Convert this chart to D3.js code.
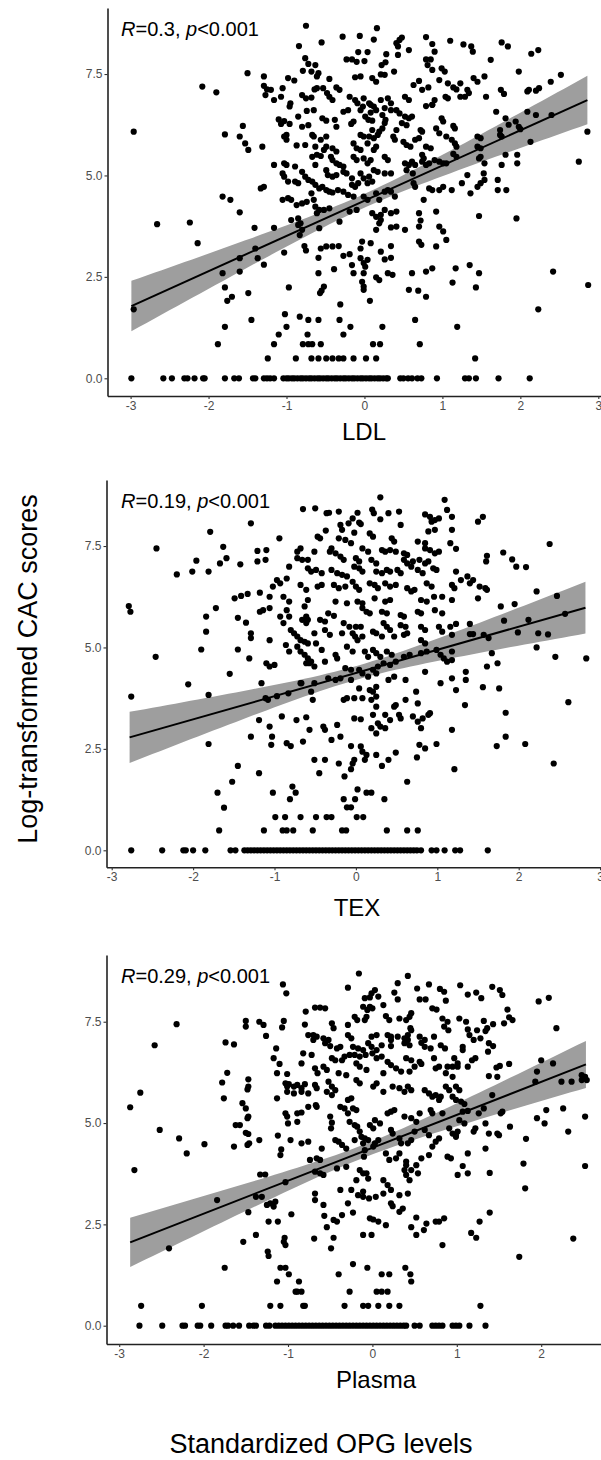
<!DOCTYPE html>
<html>
<head>
<meta charset="utf-8">
<script src="https://cdn.jsdelivr.net/npm/d3@7"></script>
<style>
  body { margin: 0; background: #fff; }
  svg text { font-family: "Liberation Sans", Arial, sans-serif; }
</style>
</head>
<body>
<div id="chart"></div>
<script>
// scatter points [x, y], one list per panel
var ldlPoints = [
  [-0.75,8.69],[0.16,8.63],[-0.06,8.44],[-0.28,8.42],[0.12,8.35],[0.79,8.41],[1.10,8.32],[1.27,8.23],[1.37,8.18],[1.39,8.05],
  [1.76,8.28],[1.84,8.18],[-0.55,8.28],[-0.84,8.19],[0.48,8.40],[0.45,8.34],[0.41,8.26],[0.43,8.18],[0.87,8.24],[0.9,8.05],
  [0.57,8.09],[2.23,8.09],[2.14,8.0],[0.28,7.99],[-0.08,8.04],[0.04,8.04],[1.62,7.85],[0.43,7.97],[-0.76,7.89],[-0.72,7.75],
  [-0.63,7.72],[-0.23,7.86],[-0.16,7.86],[-0.10,7.8],[0.0,7.82],[0.79,7.86],[0.85,7.86],[0.81,7.72],[0.87,7.6],[0.99,7.64],
  [1.03,7.56],[0.27,7.79],[0.22,7.72],[0.38,7.56],[0.26,7.48],[0.21,7.49],[-0.79,7.58],[-0.68,7.56],[-0.59,7.52],[-0.61,7.44],
  [2.52,7.48],[2.39,7.31],[1.98,7.56],[-1.50,7.52],[-1.29,7.44],[-0.98,7.40],[-0.90,7.34],[-0.45,7.38],[-0.53,7.15],[-0.36,7.17],
  [-0.32,7.11],[-0.12,7.42],[-0.05,7.44],[0.10,7.40],[0.15,7.31],[1.23,7.27],[1.40,7.40],[1.45,7.31],[1.54,7.44],[0.96,7.35],
  [1.07,7.27],[0.70,7.33],[0.63,7.23],[1.14,7.17],[1.18,7.12],[1.32,7.11],[1.34,7.03],[1.29,6.94],[0.74,7.11],[0.82,7.17],
  [1.75,7.11],[1.79,7.01],[2.11,7.11],[2.09,7.07],[2.24,7.15],[2.2,7.09],[-2.08,7.19],[-1.90,7.05],[-1.29,7.21],[-1.25,7.12],
  [-1.20,7.11],[-1.05,7.15],[-1.07,6.94],[-1.27,6.98],[-1.16,6.86],[-0.80,6.98],[-0.75,6.90],[-0.68,6.92],[-0.64,7.12],[-0.61,7.15],
  [-0.48,7.03],[-0.45,6.94],[-0.41,6.86],[-0.19,6.94],[-0.12,6.86],[-0.09,6.78],[-0.01,6.90],[0.06,6.78],[0.08,6.74],[-0.02,6.70],
  [0.21,6.86],[0.30,6.90],[0.34,6.78],[0.52,6.94],[0.57,6.86],[0.90,6.86],[0.87,6.74],[1.04,6.94],[1.07,6.90],[1.23,6.94],
  [1.56,6.94],[-0.95,6.78],[-0.96,6.70],[-0.65,6.61],[-0.74,6.59],[-0.27,6.57],[-0.21,6.61],[-0.05,6.61],[0.08,6.55],[0.01,6.45],
  [0.05,6.37],[0.12,6.70],[0.15,6.61],[0.26,6.66],[0.23,6.49],[0.34,6.61],[0.41,6.61],[0.45,6.53],[0.52,6.45],[0.57,6.41],
  [0.61,6.45],[0.79,6.71],[0.87,6.74],[1.69,6.57],[2.09,6.57],[2.2,6.49],[2.4,6.49],[-1.10,6.38],[-1.03,6.34],[-0.85,6.45],
  [-0.54,6.41],[-0.49,6.35],[-0.38,6.37],[-0.36,6.20],[-0.14,6.33],[-0.17,6.27],[0.10,6.35],[0.27,6.37],[0.26,6.29],[0.48,6.29],
  [0.54,6.24],[0.99,6.41],[1.01,6.33],[1.14,6.22],[1.16,6.16],[1.81,6.41],[1.94,6.33],[1.74,6.12],[1.85,6.25],[1.98,6.20],
  [2.0,6.14],[-1.07,6.27],[-0.96,6.27],[-0.80,6.20],[-0.72,6.24],[-1.56,6.22],[0.10,6.12],[0.19,6.08],[0.23,6.16],[0.41,6.12],
  [0.72,6.12],[0.74,6.08],[0.92,6.16],[0.96,6.04],[2.86,6.08],[-2.96,6.08],[-1.79,6.01],[-1.60,5.96],[-1.0,6.0],[-1.03,5.96],
  [-1.0,5.88],[-0.67,6.0],[-0.65,5.96],[-0.49,5.96],[-0.56,5.88],[-0.05,6.0],[-0.01,5.96],[0.06,5.96],[0.17,6.0],[0.12,5.92],
  [0.37,5.96],[0.39,5.88],[0.70,5.92],[0.65,5.88],[1.05,5.96],[1.12,5.88],[1.45,5.96],[1.49,5.92],[1.74,6.0],[1.76,5.96],
  [2.13,5.83],[-1.53,5.79],[-1.49,5.63],[-1.31,5.71],[-0.87,5.74],[-0.76,5.75],[-0.63,5.71],[-0.49,5.71],[-0.52,5.63],[-0.41,5.67],
  [-0.36,5.59],[-0.14,5.79],[-0.10,5.67],[-0.05,5.63],[0.04,5.79],[0.15,5.71],[0.12,5.63],[0.50,5.83],[0.54,5.75],[0.59,5.71],
  [0.79,5.71],[0.85,5.67],[1.16,5.79],[1.18,5.71],[1.45,5.71],[1.49,5.67],[-0.67,5.46],[-0.61,5.51],[-0.56,5.48],[-0.43,5.46],
  [-0.41,5.38],[-0.36,5.30],[-0.32,5.26],[-0.27,5.22],[-0.14,5.46],[-0.10,5.38],[-0.01,5.42],[0.04,5.30],[0.08,5.38],[0.26,5.46],
  [0.30,5.38],[0.74,5.51],[0.76,5.42],[1.14,5.53],[1.18,5.46],[1.49,5.46],[1.47,5.42],[1.81,5.51],[1.96,5.51],[-1.16,5.26],
  [-1.03,5.30],[-1.0,5.26],[-0.89,5.22],[-0.63,5.26],[0.52,5.30],[0.57,5.26],[0.61,5.34],[0.65,5.26],[0.74,5.34],[0.79,5.26],
  [0.83,5.30],[0.90,5.38],[0.96,5.34],[1.01,5.30],[1.05,5.30],[1.54,5.30],[1.76,5.26],[1.96,5.30],[2.75,5.34],[-1.05,5.05],
  [-1.03,4.97],[-0.80,5.09],[-0.76,4.97],[-0.72,4.89],[-0.67,4.85],[-0.49,5.13],[-0.47,5.01],[-0.41,4.97],[-0.36,5.01],[-0.27,5.09],
  [-0.23,5.05],[-0.16,4.93],[-0.05,5.05],[-0.01,4.93],[0.06,4.97],[0.12,5.13],[0.17,5.09],[0.26,5.05],[0.34,5.05],[0.54,5.13],
  [0.62,5.05],[1.32,5.01],[1.53,5.05],[1.71,4.89],[1.25,4.81],[1.36,4.56],[1.45,4.72],[1.49,4.81],[1.54,4.89],[1.71,4.64],
  [1.82,4.64],[0.83,4.68],[0.87,4.64],[0.96,4.64],[1.01,4.72],[1.12,4.64],[0.63,4.81],[0.65,4.72],[-1.33,4.68],[-1.29,4.72],
  [-0.98,4.85],[-0.89,4.85],[-0.85,4.81],[-0.63,4.77],[-0.58,4.68],[-0.54,4.72],[-0.49,4.64],[-0.45,4.60],[-0.41,4.58],[-0.34,4.64],
  [-0.27,4.60],[-0.16,4.77],[-0.12,4.72],[-0.08,4.81],[0.04,4.81],[0.10,4.85],[0.34,4.60],[0.39,4.48],[-0.68,4.56],[-0.65,4.40],
  [-0.63,4.23],[-0.61,4.07],[-0.58,4.15],[-0.52,4.15],[-0.45,4.19],[-1.82,4.48],[-1.72,4.40],[-1.05,4.40],[-0.98,4.44],[-0.94,4.40],
  [-0.87,4.27],[-0.80,4.31],[-0.74,4.35],[-0.21,4.52],[-0.14,4.48],[-0.01,4.48],[0.04,4.40],[0.15,4.56],[0.19,4.40],[0.26,4.60],
  [0.30,4.64],[0.76,4.40],[1.47,4.0],[1.95,3.94],[-1.60,4.09],[-0.94,3.90],[-0.85,3.94],[-0.82,3.82],[-0.19,4.11],[-0.10,4.15],
  [0.10,4.07],[0.15,3.98],[0.21,4.03],[0.26,4.15],[0.34,4.07],[0.41,4.11],[0.21,3.90],[0.19,3.82],[0.15,3.66],[0.70,4.07],
  [0.72,3.89],[0.92,4.11],[-2.66,3.80],[-2.24,3.84],[-1.41,3.71],[-1.16,3.71],[-0.85,3.78],[-0.80,3.66],[-0.83,3.53],[-0.58,3.70],
  [-0.32,3.86],[0.34,3.72],[0.41,3.74],[0.52,3.66],[0.70,3.74],[0.96,3.74],[1.01,3.62],[-2.14,3.33],[-1.40,3.20],[-0.77,3.26],
  [-0.75,3.15],[-0.56,3.20],[-0.49,3.25],[-0.41,3.25],[-0.33,3.26],[-0.03,3.37],[-0.05,3.20],[0.08,3.33],[0.70,3.37],[0.73,3.29],
  [1.05,3.41],[0.34,3.26],[0.21,3.12],[0.92,3.25],[-1.03,3.10],[-1.37,2.96],[-1.60,2.96],[-0.59,2.97],[-0.27,3.02],[-0.19,3.06],
  [-0.05,2.96],[0.04,2.92],[-0.01,2.84],[0.26,2.93],[0.34,2.97],[-1.29,2.80],[-0.39,2.69],[-0.16,2.79],[0.01,2.75],[-0.01,2.59],
  [0.30,2.59],[0.36,2.55],[0.61,2.59],[0.79,2.63],[0.87,2.71],[1.17,2.71],[1.35,2.79],[1.47,2.59],[2.42,2.63],[-1.82,2.59],
  [-1.60,2.63],[-0.59,2.59],[-0.14,2.59],[0.15,2.49],[0.19,2.42],[-0.03,2.38],[-0.01,2.26],[1.13,2.36],[2.87,2.30],[-1.79,2.24],
  [-0.97,2.24],[-0.52,2.26],[-0.55,2.16],[-0.57,2.10],[0.57,2.18],[0.69,2.16],[1.43,2.24],[-0.01,2.18],[-1.49,2.10],[-1.70,2.01],
  [-1.76,1.91],[0.79,2.01],[0.07,1.91],[-0.31,1.82],[-2.96,1.70],[2.23,1.70],[-1.02,1.58],[-0.83,1.52],[-1.45,1.44],[-0.72,1.44],
  [-0.59,1.44],[-0.32,1.44],[0.65,1.44],[-1.79,1.27],[-1.0,1.27],[-0.18,1.27],[0.23,1.27],[1.19,1.27],[-1.10,1.08],[-0.73,1.08],
  [-0.27,1.08],[-1.88,0.84],[-1.16,0.84],[-0.79,0.84],[-0.72,0.84],[-0.67,0.84],[-0.56,0.84],[0.11,0.84],[0.20,0.84],[0.71,0.84],
  [-1.24,0.49],[-0.88,0.49],[-0.68,0.49],[-0.59,0.49],[-0.49,0.49],[-0.41,0.49],[-0.33,0.49],[-0.27,0.49],[-0.14,0.49],[0.02,0.49],
  [0.15,0.49],[1.42,0.49],
  [-2.99,0],[-2.58,0],[-2.47,0],[-2.31,0],[-2.27,0],[-2.18,0],[-2.07,0],[-2.05,0],[-1.79,0],[-1.67,0],[-1.61,0],[-1.43,0],
  [-1.40,0],[-1.29,0],[-1.25,0],[-1.21,0],[-1.16,0],[-1.04,0],[-1.0,0],[-0.97,0],[-0.93,0],[-0.9,0],[-0.86,0],[-0.82,0],
  [-0.79,0],[-0.75,0],[-0.71,0],[-0.68,0],[-0.64,0],[-0.6,0],[-0.57,0],[-0.53,0],[-0.49,0],[-0.46,0],[-0.42,0],[-0.38,0],
  [-0.35,0],[-0.31,0],[-0.27,0],[-0.24,0],[-0.2,0],[-0.16,0],[-0.13,0],[-0.09,0],[-0.05,0],[-0.02,0],[0.02,0],[0.06,0],
  [0.09,0],[0.13,0],[0.17,0],[0.2,0],[0.24,0],[0.28,0],[0.3,0],[0.46,0],[0.50,0],[0.56,0],[0.61,0],[0.68,0],[0.73,0],
  [0.93,0],[1.29,0],[1.34,0],[1.43,0],[1.72,0],[2.12,0]
];

var texPoints = [
  [0.30,8.70],[1.09,8.64],[-0.65,8.41],[-0.50,8.43],[0.20,8.40],[0.22,8.31],[0.53,8.35],[-0.36,8.31],[-0.33,8.32],[-0.21,8.35],
  [-0.04,8.18],[0.02,8.32],[0.40,8.31],[0.85,8.28],[0.91,8.22],[0.97,8.14],[1.02,8.18],[0.93,8.10],[1.12,8.39],[1.18,8.22],
  [1.50,8.10],[1.56,8.22],[-1.29,8.06],[0.30,8.16],[0.04,8.08],[0.06,8.04],[-0.19,8.02],[-0.17,7.90],[-0.09,8.06],[0.55,8.02],
  [0.89,7.86],[0.97,7.90],[1.18,7.90],[-1.79,7.85],[-0.37,7.88],[0.17,7.81],[0.21,7.73],[-0.02,7.83],[-0.47,7.73],[-0.44,7.69],
  [-0.94,7.69],[-0.21,7.69],[-0.13,7.65],[-0.06,7.57],[0.44,7.69],[0.47,7.61],[0.76,7.61],[0.85,7.57],[1.16,7.57],[1.23,7.43],
  [2.38,7.55],[-2.45,7.44],[-1.63,7.48],[-0.68,7.44],[-0.72,7.36],[-0.51,7.36],[-0.30,7.44],[-0.32,7.36],[-0.25,7.32],[-0.19,7.24],
  [-0.15,7.16],[0.08,7.44],[0.15,7.36],[0.32,7.40],[0.36,7.36],[0.42,7.40],[0.49,7.36],[0.59,7.32],[0.63,7.28],[0.85,7.44],
  [0.91,7.40],[0.97,7.32],[1.02,7.36],[-1.21,7.38],[-1.10,7.40],[1.61,7.26],[1.60,7.12],[1.81,7.34],[1.92,7.17],[2.09,6.98],
  [-1.59,7.20],[-1.42,7.05],[-1.21,7.12],[-1.11,7.16],[-1.67,7.07],[-1.96,7.14],[-0.72,7.20],[-0.66,7.16],[-0.59,7.16],[0.0,7.20],
  [0.04,7.12],[0.19,7.16],[0.25,7.07],[0.59,7.16],[0.63,7.07],[0.70,7.12],[0.68,6.99],[0.78,7.16],[0.85,7.07],[0.89,7.12],
  [-2.20,6.80],[-2.01,6.87],[-1.81,6.87],[-0.82,6.99],[-0.85,6.70],[-0.59,6.95],[-0.55,6.87],[-0.49,6.91],[-0.42,6.83],[-0.30,6.91],
  [-0.23,6.83],[-0.17,6.79],[-0.11,6.75],[-0.02,6.99],[0.04,6.95],[0.08,6.87],[0.25,6.87],[0.32,6.83],[0.38,6.91],[0.42,6.87],
  [0.51,6.91],[0.55,6.83],[0.76,6.91],[0.82,6.83],[0.95,6.95],[0.99,6.91],[1.23,6.87],[1.29,6.66],[1.37,6.75],[1.44,6.66],
  [1.97,6.99],[2.22,6.38],[2.47,6.27],[-0.97,6.66],[-0.93,6.58],[-1.02,6.50],[-0.68,6.54],[-0.61,6.42],[-0.47,6.50],[-0.42,6.54],
  [-0.27,6.54],[-0.21,6.46],[-0.13,6.50],[-0.04,6.62],[0.0,6.50],[0.04,6.42],[0.17,6.58],[0.23,6.54],[0.27,6.46],[0.36,6.58],
  [0.42,6.50],[0.49,6.54],[0.63,6.46],[0.68,6.38],[0.72,6.42],[0.87,6.58],[0.93,6.50],[1.18,6.54],[1.21,6.46],[1.52,6.50],
  [1.59,6.46],[1.61,6.42],[1.40,6.58],[0.96,6.25],[1.06,6.25],[-1.49,6.21],[-1.41,6.27],[-1.33,6.32],[-1.18,6.35],[-1.06,6.25],
  [-0.89,6.25],[-0.82,6.13],[-0.59,6.17],[-0.25,6.13],[-0.11,6.09],[0.02,6.13],[0.08,6.09],[0.23,6.21],[0.36,6.13],[0.42,6.17],
  [0.80,6.17],[0.87,6.13],[1.18,6.17],[1.50,6.21],[1.78,6.01],[1.95,6.07],[-2.79,6.02],[-2.77,5.88],[-1.72,5.97],[-1.18,5.88],
  [-1.14,5.92],[-1.06,5.97],[-0.85,5.92],[-0.82,5.76],[-0.63,6.01],[-0.61,5.76],[-0.59,5.68],[-0.34,5.84],[-0.27,5.78],[0.08,5.97],
  [0.13,5.88],[0.17,5.84],[0.32,5.88],[0.38,5.84],[0.55,5.80],[0.59,5.76],[0.76,5.88],[0.80,5.84],[0.97,5.92],[1.06,5.84],
  [2.57,5.83],[-1.84,5.76],[-1.45,5.73],[-0.93,5.76],[-0.89,5.60],[-0.66,5.68],[-0.61,5.60],[-0.44,5.68],[-0.38,5.64],[-0.15,5.60],
  [-0.08,5.51],[0.0,5.51],[0.06,5.51],[0.34,5.60],[0.38,5.51],[0.55,5.55],[0.61,5.51],[0.80,5.51],[0.85,5.43],[1.02,5.51],
  [1.06,5.39],[1.16,5.51],[1.23,5.58],[1.40,5.58],[1.82,5.66],[2.12,5.68],[-1.84,5.39],[-1.35,5.61],[-1.29,5.35],[-1.29,5.23],
  [-0.80,5.43],[-0.76,5.35],[-0.72,5.27],[-0.68,5.18],[-0.63,5.14],[-0.59,5.10],[-0.51,5.35],[-0.49,5.10],[-0.38,5.43],[-0.32,5.31],
  [-0.17,5.35],[-0.04,5.35],[-0.01,5.27],[0.02,5.18],[0.08,5.27],[0.21,5.39],[0.25,5.35],[0.32,5.27],[0.42,5.43],[0.47,5.27],
  [0.59,5.31],[0.63,5.35],[0.80,5.18],[0.85,5.10],[1.18,5.31],[1.40,5.33],[1.44,5.33],[1.57,5.31],[1.63,5.23],[1.99,5.37],
  [2.24,5.35],[2.36,5.32],[-1.06,5.18],[-1.90,4.95],[-1.45,4.95],[-0.86,5.06],[-0.82,4.90],[-0.72,5.02],[-0.68,4.90],[-0.63,4.82],
  [-0.59,4.73],[-0.55,4.65],[-0.61,4.61],[-0.42,4.94],[-0.38,4.65],[-0.25,4.82],[-0.23,4.73],[-0.11,5.02],[-0.04,4.90],[0.11,4.90],
  [0.15,4.77],[0.21,4.94],[0.25,4.86],[0.30,4.77],[0.38,4.90],[0.44,4.82],[0.59,4.77],[0.66,4.82],[0.80,4.86],[0.87,4.90],
  [0.99,4.94],[1.04,4.82],[1.08,4.73],[1.12,4.65],[1.18,4.90],[1.18,4.69],[1.67,4.86],[2.22,5.00],[2.45,4.77],[2.83,4.73],
  [-2.46,4.77],[-1.31,4.73],[-1.10,4.61],[-1.06,4.53],[-1.0,4.57],[-1.55,4.35],[-0.57,4.61],[-0.51,4.53],[-0.13,4.49],[-0.06,4.45],
  [0.04,4.45],[0.08,4.36],[0.15,4.28],[0.21,4.45],[0.25,4.36],[0.27,4.53],[0.34,4.61],[0.42,4.57],[0.49,4.65],[0.85,4.40],
  [1.35,4.40],[1.35,4.20],[1.61,4.53],[1.74,4.61],[-2.06,4.09],[-1.16,4.12],[-0.67,4.12],[-0.51,4.12],[-0.34,4.24],[-0.25,4.20],
  [-0.19,4.24],[-0.06,4.20],[0.04,3.99],[0.17,3.95],[0.21,3.91],[0.25,4.03],[0.40,4.20],[0.47,4.28],[0.61,4.20],[1.04,4.12],
  [1.18,4.24],[1.23,3.95],[1.56,4.02],[1.76,3.99],[-1.81,3.83],[-2.76,3.79],[-1.11,3.75],[-1.08,3.71],[-0.97,3.80],[-0.83,3.87],
  [-0.68,4.12],[-0.55,3.91],[-0.53,3.71],[-0.15,3.71],[-0.11,3.75],[-0.02,3.75],[0.08,3.75],[0.19,3.71],[0.25,3.79],[0.61,3.71],
  [0.74,3.91],[0.76,3.62],[2.61,3.65],[0.25,3.54],[0.21,3.34],[0.36,3.34],[0.47,3.54],[0.49,3.58],[0.70,3.30],[0.76,3.17],
  [0.89,3.34],[0.91,3.38],[1.84,3.39],[1.34,3.58],[-0.91,3.30],[-1.19,3.21],[-1.06,3.05],[-0.73,3.21],[-0.61,3.28],[-0.02,3.25],
  [0.06,3.23],[0.27,3.13],[0.30,3.05],[0.36,3.01],[0.42,3.21],[0.55,3.25],[0.53,3.34],[0.80,3.01],[0.82,3.25],[1.18,2.97],
  [-0.57,2.97],[-0.40,3.05],[-0.38,2.97],[-0.23,3.09],[0.19,3.01],[0.25,2.88],[-1.29,2.80],[-1.03,2.80],[-1.04,2.60],[-0.85,2.64],
  [-0.80,2.57],[-0.65,2.68],[-0.30,2.72],[-0.19,2.80],[-0.06,2.57],[0.06,2.56],[0.08,2.43],[0.78,2.60],[0.85,2.51],[0.99,2.62],
  [1.73,2.57],[1.84,2.80],[2.08,2.62],[-1.81,2.62],[0.13,2.35],[0.25,2.35],[0.49,2.41],[0.75,2.29],[-0.51,2.23],[-0.38,2.23],
  [-0.21,2.14],[-0.04,2.14],[-0.02,2.23],[0.11,2.23],[0.32,2.08],[0.40,2.23],[1.21,2.0],[2.43,2.14],[-1.45,2.08],[-1.19,1.90],
  [-0.45,1.90],[-0.14,1.82],[-0.06,2.0],[0.63,1.69],[-1.52,1.69],[-0.78,1.57],[-0.74,1.42],[-1.70,1.42],[-1.02,1.42],[0.02,1.50],
  [0.13,1.42],[0.19,1.42],[-1.62,1.05],[-0.81,1.26],[-0.15,1.26],[-0.01,1.26],[0.35,1.26],[-0.11,1.06],[-0.06,1.06],
  [-0.99,0.82],[-0.87,0.82],[-0.68,0.82],[-0.49,0.82],[-0.36,0.82],[-0.30,0.82],[0.01,0.82],[0.09,0.82],
  [-1.68,0.49],[-1.13,0.49],[-0.90,0.49],[-0.85,0.49],[-0.77,0.49],[-0.53,0.49],[-0.17,0.49],[-0.12,0.49],[0.38,0.49],[0.63,0.49],
  [0.76,0.49],
  [-2.76,0],[-2.38,0],[-2.12,0],[-2.09,0],[-2.0,0],[-1.85,0],[-1.54,0],[-1.48,0],[-1.37,0],[-1.33,0],[-1.29,0],[-1.25,0],
  [-1.21,0],[-1.17,0],[-1.13,0],[-1.09,0],[-1.05,0],[-1.01,0],[-0.97,0],[-0.93,0],[-0.89,0],[-0.85,0],[-0.81,0],[-0.77,0],
  [-0.73,0],[-0.69,0],[-0.65,0],[-0.61,0],[-0.57,0],[-0.53,0],[-0.49,0],[-0.45,0],[-0.41,0],[-0.37,0],[-0.33,0],[-0.29,0],
  [-0.25,0],[-0.21,0],[-0.17,0],[-0.13,0],[-0.09,0],[-0.05,0],[-0.01,0],[0.03,0],[0.07,0],[0.11,0],[0.15,0],[0.19,0],
  [0.23,0],[0.27,0],[0.31,0],[0.35,0],[0.39,0],[0.43,0],[0.47,0],[0.51,0],[0.55,0],[0.59,0],[0.63,0],[0.67,0],[0.71,0],
  [0.75,0],[0.80,0],[0.93,0],[0.99,0],[1.09,0],[1.22,0],[1.28,0],[1.62,0]
];

var plasmaPoints = [
  [-0.16,8.69],[0.42,8.63],[-1.06,8.42],[-1.02,8.20],[-0.29,8.34],[0.30,8.45],[0.67,8.42],[0.80,8.31],[0.85,8.24],[1.04,8.40],
  [1.42,8.36],[1.51,8.28],[1.54,8.16],[0.53,8.32],[0.03,8.28],[-0.01,8.20],[-0.03,8.10],[0.07,8.12],[0.26,8.22],[0.30,8.05],
  [-0.09,8.08],[1.13,8.17],[1.23,8.22],[1.29,8.08],[0.56,8.05],[0.63,8.05],[0.87,8.02],[1.97,8.0],[2.09,8.09],[-0.11,7.87],
  [-0.06,7.79],[-0.03,7.87],[0.0,7.83],[0.13,7.91],[0.71,7.83],[0.76,7.80],[0.46,7.71],[0.44,7.62],[1.60,7.80],[1.62,7.61],
  [1.66,7.54],[-0.68,7.85],[-0.62,7.85],[-0.56,7.83],[-0.79,7.75],[-0.21,7.62],[-0.18,7.54],[-0.07,7.62],[-0.09,7.54],[0.16,7.64],
  [0.20,7.54],[0.32,7.58],[0.40,7.54],[0.83,7.58],[0.89,7.50],[1.03,7.58],[1.11,7.50],[1.32,7.52],[1.36,7.34],[1.34,7.27],
  [1.43,7.44],[1.56,7.46],[1.24,7.29],[-2.32,7.44],[-1.50,7.52],[-1.50,7.38],[-1.34,7.50],[-1.29,7.42],[-1.05,7.52],[-1.07,7.36],
  [-0.80,7.43],[-0.76,7.17],[-0.48,7.46],[-0.46,7.34],[-0.29,7.42],[0.45,7.34],[0.46,7.29],[0.42,7.17],[0.85,7.38],[0.90,7.29],
  [0.73,7.13],[1.13,7.31],[1.15,7.17],[-2.58,6.92],[-1.74,6.99],[-1.64,6.94],[-1.26,7.15],[-0.70,7.17],[-0.66,7.13],[-0.70,7.05],
  [-0.58,7.09],[-0.52,7.05],[-0.29,7.17],[-0.25,7.09],[-0.01,7.13],[0.05,7.17],[0.18,7.17],[0.22,7.13],[0.22,7.05],[0.30,7.13],
  [0.38,7.09],[0.42,7.05],[0.56,7.13],[0.62,7.05],[0.58,6.98],[1.20,7.05],[1.28,7.09],[2.18,7.34],[-0.56,6.97],[-0.50,6.90],
  [-0.42,6.84],[-0.38,6.88],[-0.23,6.88],[-0.17,6.84],[-0.11,6.80],[-0.05,6.97],[-0.01,6.88],[0.05,6.80],[0.11,6.92],[0.22,6.90],
  [0.38,6.97],[0.44,6.92],[0.62,6.88],[0.69,6.84],[0.81,6.92],[0.86,6.84],[1.07,6.88],[1.07,6.80],[1.38,6.97],[1.43,6.90],
  [-1.14,6.84],[-0.82,6.72],[-0.72,6.68],[-0.27,6.68],[-0.21,6.68],[-0.15,6.64],[-0.08,6.68],[0.0,6.72],[0.05,6.60],[0.11,6.64],
  [0.18,6.51],[-1.17,6.60],[-1.10,6.46],[-0.48,6.60],[-0.44,6.55],[-0.36,6.55],[-0.33,6.64],[0.40,6.60],[0.46,6.55],[0.56,6.51],
  [0.58,6.46],[0.73,6.60],[0.97,6.60],[1.01,6.47],[1.18,6.55],[1.22,6.60],[1.37,6.76],[1.51,6.41],[1.62,6.46],[2.0,6.55],
  [2.14,6.47],[-0.84,6.47],[-0.68,6.35],[-0.65,6.23],[-0.58,6.39],[-0.54,6.31],[-0.19,6.47],[-0.15,6.39],[0.22,6.43],[0.28,6.35],
  [0.34,6.27],[0.44,6.27],[0.50,6.39],[0.75,6.35],[0.79,6.39],[0.89,6.39],[0.95,6.39],[1.01,6.39],[1.13,6.39],[1.47,6.37],
  [1.95,6.27],[-1.72,6.24],[-1.13,6.23],[-1.01,6.21],[-0.40,6.23],[-0.31,6.18],[-0.07,6.31],[0.13,6.23],[0.87,6.23],[0.95,6.14],
  [1.38,6.16],[1.48,6.14],[2.48,6.18],[2.52,6.14],[2.54,6.06],[2.24,6.02],[2.48,6.06],[-1.78,6.0],[-1.47,6.08],[-0.99,5.96],
  [-0.93,5.90],[-0.89,5.94],[-0.84,5.86],[-0.68,5.94],[-0.66,5.86],[-0.80,5.96],[-0.52,6.02],[-0.48,5.90],[-0.44,5.81],[-0.19,6.06],
  [-0.15,5.98],[0.05,5.98],[0.01,5.90],[0.24,5.90],[0.32,5.86],[0.38,5.77],[0.42,5.90],[0.46,5.81],[0.62,5.81],[0.67,5.73],
  [0.71,5.65],[0.75,5.69],[0.87,5.90],[0.91,5.81],[0.99,5.90],[1.03,5.81],[-1.47,5.90],[-1.48,5.83],[-1.76,5.61],[-1.03,5.98],
  [-1.01,5.90],[-0.76,5.73],[-1.01,5.77],[-0.93,5.73],[-0.84,5.77],[-0.54,5.77],[-0.48,5.69],[-0.29,5.57],[-0.25,5.61],[0.13,5.77],
  [0.81,5.65],[0.79,5.57],[0.95,5.65],[0.99,5.57],[1.05,5.53],[1.09,5.47],[1.42,5.69],[-1.13,5.61],[2.36,6.02],[1.93,6.02],
  [-2.87,5.39],[-2.52,4.83],[-2.29,4.62],[-1.99,4.48],[-2.20,4.25],[-2.82,3.84],[-2.75,5.75],[-1.54,5.49],[-1.50,5.36],[-1.47,5.16],
  [-1.48,5.12],[-1.62,4.95],[-1.57,4.95],[-1.50,4.76],[-1.47,4.73],[-1.46,4.50],[-1.48,4.46],[-1.34,4.58],[-1.64,4.42],[-1.12,4.69],
  [-1.08,4.35],[-0.97,4.58],[-1.03,5.24],[-1.01,5.16],[-1.00,4.99],[-0.89,5.03],[-0.89,5.24],[-0.84,5.26],[-0.66,5.40],[-0.67,5.44],
  [-0.76,5.40],[-0.50,5.16],[-0.48,5.01],[-0.49,4.87],[-0.38,5.40],[-0.33,5.36],[-0.23,5.36],[-0.19,5.32],[-0.29,5.24],[-0.27,5.03],
  [-0.21,4.95],[-0.18,4.91],[-0.15,4.79],[-0.13,4.66],[-0.09,4.62],[-0.05,4.58],[-0.03,4.95],[0.01,4.87],[0.03,5.07],[0.09,4.99],
  [0.18,5.24],[0.22,5.28],[0.26,5.32],[0.38,5.16],[0.46,5.12],[0.52,5.03],[0.56,5.24],[0.69,5.32],[0.71,5.24],[0.83,5.24],
  [1.03,5.07],[1.09,4.99],[1.07,5.28],[1.13,5.30],[1.26,5.24],[1.32,5.36],[1.54,5.28],[1.52,5.24],[1.63,4.91],[1.95,5.12],
  [2.04,4.99],[2.06,5.32],[2.32,4.79],[2.26,5.36],[2.52,5.16],[2.52,3.94],[2.38,2.15],[1.74,1.70],[1.81,3.39],[1.79,4.0],
  [1.82,4.61],[1.38,4.74],[1.48,4.74],[1.50,4.70],[1.34,4.99],[1.22,4.87],[1.20,4.79],[1.13,4.25],[1.01,4.79],[0.99,4.70],
  [0.91,4.87],[0.95,4.74],[0.99,4.66],[0.79,4.62],[0.75,4.54],[0.62,4.83],[0.67,4.70],[0.50,4.79],[0.46,4.58],[0.42,4.50],
  [0.32,4.62],[0.34,4.50],[0.22,4.83],[0.24,4.74],[0.07,4.58],[0.03,4.50],[0.01,4.42],[-0.11,4.50],[-0.09,4.33],[-0.10,4.17],
  [-0.21,4.58],[-0.36,4.46],[-0.31,4.37],[-0.60,4.37],[-0.44,4.58],[-0.40,4.54],[-0.84,4.50],[-0.76,4.54],[-0.66,4.13],[-0.62,4.09],
  [-0.74,4.09],[-1.09,4.21],[0.16,4.25],[0.20,4.09],[0.28,4.13],[0.32,4.25],[0.40,4.05],[0.40,3.96],[0.52,3.96],[0.46,3.84],
  [0.58,4.13],[0.67,4.21],[0.89,4.17],[0.93,4.13],[1.13,3.76],[1.07,3.94],[1.01,3.72],[1.39,3.77],[1.34,4.37],[0.71,4.42],
  [-1.33,3.73],[-1.27,3.73],[-1.38,3.18],[-1.31,3.18],[-1.84,3.10],[-1.03,3.54],[-1.25,2.98],[-1.21,3.02],[-1.17,2.94],[-1.15,3.06],
  [-0.68,3.80],[-0.62,3.76],[-0.58,3.72],[-0.42,3.88],[-0.31,3.92],[-0.19,3.59],[-0.15,3.84],[-0.11,3.76],[-0.07,3.76],[-0.05,3.63],
  [0.13,3.59],[0.18,3.47],[0.38,3.84],[0.40,3.72],[0.44,3.59],[0.54,3.76],[-0.68,3.26],[-0.68,3.10],[-0.38,3.35],[-0.29,3.02],
  [-0.25,3.35],[-0.17,3.22],[-0.11,3.18],[-0.11,3.31],[-0.04,3.14],[0.04,3.18],[0.13,3.26],[0.22,3.35],[0.32,3.22],[0.42,3.26],
  [0.22,3.02],[0.24,2.95],[0.32,2.81],[0.36,2.89],[-0.58,2.98],[-0.96,2.75],[-1.23,2.57],[-1.12,2.57],[-1.47,2.80],[-0.57,2.71],
  [-0.46,2.61],[-0.42,2.57],[-0.36,2.73],[-0.23,2.79],[-0.03,2.65],[0.01,2.62],[0.07,2.57],[0.16,2.48],[0.52,2.67],[0.64,2.52],
  [0.75,2.57],[0.79,2.57],[0.85,2.65],[1.27,2.57],[1.39,2.79],[0.46,2.43],[-0.54,2.43],[-1.38,2.24],[-1.04,2.17],[-1.05,2.07],
  [-1.03,1.99],[-0.69,2.15],[-0.46,2.17],[-0.11,2.24],[-0.01,2.24],[0.52,2.24],[0.61,2.36],[1.17,2.29],[1.23,2.17],[0.83,1.99],
  [-1.53,2.07],[-2.41,1.91],[-0.49,1.91],[-1.24,1.83],[-1.23,1.72],[-1.75,1.43],[-1.09,1.43],[-1.03,1.43],[-0.99,1.27],[-0.23,1.52],
  [-0.06,1.43],[-0.40,1.27],[0.11,1.27],[0.20,1.27],[0.39,1.43],[0.45,1.27],[0.46,1.09],[-1.13,1.09],[-0.87,1.09],
  [-0.91,0.84],[-0.89,0.84],[-0.84,0.84],[-0.27,0.84],[0.05,0.84],[0.11,0.84],[0.18,0.84],
  [-2.74,0.49],[-2.02,0.49],[-1.21,0.49],[-1.09,0.49],[-0.82,0.49],[-0.80,0.49],[-0.33,0.49],[-0.11,0.49],[-0.05,0.49],[0.07,0.49],
  [0.20,0.49],[0.32,0.49],[1.28,0.49],
  [-2.76,0],[-2.49,0],[-2.25,0],[-2.22,0],[-2.07,0],[-2.04,0],[-1.91,0],[-1.74,0],[-1.71,0],[-1.65,0],[-1.58,0],[-1.46,0],
  [-1.41,0],[-1.38,0],[-1.26,0],[-1.22,0],[-1.15,0],[-1.11,0],[-1.07,0],[-1.03,0],[-0.99,0],[-0.95,0],[-0.91,0],[-0.87,0],
  [-0.83,0],[-0.79,0],[-0.75,0],[-0.71,0],[-0.67,0],[-0.63,0],[-0.59,0],[-0.55,0],[-0.51,0],[-0.47,0],[-0.43,0],[-0.39,0],
  [-0.35,0],[-0.31,0],[-0.27,0],[-0.23,0],[-0.19,0],[-0.15,0],[-0.11,0],[-0.07,0],[-0.03,0],[0.01,0],[0.05,0],[0.09,0],
  [0.13,0],[0.17,0],[0.21,0],[0.25,0],[0.29,0],[0.33,0],[0.37,0],[0.40,0],[0.50,0],[0.56,0],[0.71,0],[0.75,0],[0.79,0],
  [0.83,0],[0.95,0],[0.99,0],[1.03,0],[1.15,0],[1.34,0]
];

// panel texts
var xTitles = ["LDL", "TEX", "Plasma"];
var rValues = ["0.3", "0.19", "0.29"];
var yTicks = [0, 2.5, 5, 7.5];
var xTickSets = [[-3,-2,-1,0,1,2,3], [-3,-2,-1,0,1,2,3], [-3,-2,-1,0,1,2]];

// fitted line and its 95% band
var fitIntercept = [4.376, 4.37, 4.39];
var fitSlope = [0.868, 0.571, 0.813];
var fitRange = [[-2.99, 2.86], [-2.78, 2.82], [-2.87, 2.53]];
var bandCentre = [0.0, 0.0, -0.1];
var bandMin = [0.17, 0.17, 0.16];
var bandSpread = [0.2, 0.218, 0.212];

var width = 601, height = 1460;

var svg = d3.select("#chart").append("svg")
  .attr("width", width)
  .attr("height", height)
  .style("background", "#fff");

// pixel frame of each panel (axis corner, tick anchors)
var frames = [
  {left: 107.5, top: 8, bottom: 396, x0: 130.6, xu: 77.95, y0: 378.3, yu: 40.57, titleX: 364, titleY: 440},
  {left: 106.5, top: 480, bottom: 867.3, x0: 111.7, xu: 81.4, y0: 850.3, yu: 40.57, titleX: 357, titleY: 916},
  {left: 106.5, top: 955, bottom: 1344, x0: 119.2, xu: 84.4, y0: 1325.7, yu: 40.53, titleX: 376, titleY: 1388}
];
var allPoints = [ldlPoints, texPoints, plasmaPoints];

frames.forEach(function(f, i) {
  var right = 612;
  var x = d3.scaleLinear()
    .domain([-3 - (f.x0 - f.left) / f.xu, -3 + (right - f.x0) / f.xu])
    .range([f.left, right]);
  var y = d3.scaleLinear()
    .domain([-(f.bottom - f.y0) / f.yu, (f.y0 - f.top) / f.yu])
    .range([f.bottom, f.top]);

  var g = svg.append("g");

  // confidence band
  var xs = d3.range(0, 61).map(function(k) {
    return fitRange[i][0] + (fitRange[i][1] - fitRange[i][0]) * k / 60;
  });
  function halfWidth(d) {
    return Math.sqrt(bandMin[i] * bandMin[i] + Math.pow(bandSpread[i] * (d - bandCentre[i]), 2));
  }
  var band = d3.area()
    .x(function(d) { return x(d); })
    .y0(function(d) { return y(fitIntercept[i] + fitSlope[i] * d - halfWidth(d)); })
    .y1(function(d) { return y(fitIntercept[i] + fitSlope[i] * d + halfWidth(d)); });
  g.append("path")
    .attr("d", band(xs))
    .attr("fill", "#9e9e9e");

  // points
  g.selectAll("circle")
    .data(allPoints[i])
    .enter()
    .append("circle")
    .attr("cx", function(d) { return x(d[0]); })
    .attr("cy", function(d) { return y(d[1]); })
    .attr("r", 3.1)
    .attr("fill", "#000");

  // regression line
  g.append("line")
    .attr("x1", x(fitRange[i][0]))
    .attr("y1", y(fitIntercept[i] + fitSlope[i] * fitRange[i][0]))
    .attr("x2", x(fitRange[i][1]))
    .attr("y2", y(fitIntercept[i] + fitSlope[i] * fitRange[i][1]))
    .attr("stroke", "#000")
    .attr("stroke-width", 2);

  // axes
  var yAxis = d3.axisLeft(y)
    .tickValues(yTicks)
    .tickSize(3)
    .tickSizeOuter(0)
    .tickPadding(2)
    .tickFormat(d3.format(".1f"));
  var xAxis = d3.axisBottom(x)
    .tickValues(xTickSets[i])
    .tickSize(3)
    .tickSizeOuter(0)
    .tickPadding(2)
    .tickFormat(function(d) { return d < 0 ? "-" + Math.abs(d) : d; });

  var ya = g.append("g")
    .attr("transform", "translate(" + f.left + ",0)")
    .call(yAxis);
  var xa = g.append("g")
    .attr("transform", "translate(0," + f.bottom + ")")
    .call(xAxis);

  [ya, xa].forEach(function(a) {
    a.select(".domain").attr("stroke", "#222").attr("stroke-width", 1.6);
    a.selectAll(".tick line").attr("stroke", "#333").attr("stroke-width", 1.1);
    a.selectAll(".tick text")
      .attr("fill", "#4d4d4d")
      .style("font-size", "12px")
      .style("font-family", "'Liberation Sans', Arial, sans-serif");
  });

  // R and p annotation
  var ann = g.append("text")
    .attr("x", 121)
    .attr("y", f.top + 28)
    .style("font-size", "20px")
    .attr("fill", "#000");
  ann.append("tspan").style("font-style", "italic").text("R");
  ann.append("tspan").text("=" + rValues[i] + ", ");
  ann.append("tspan").style("font-style", "italic").text("p");
  ann.append("tspan").text("<0.001");

  // panel x title
  g.append("text")
    .attr("x", f.titleX)
    .attr("y", f.titleY)
    .attr("text-anchor", "middle")
    .style("font-size", "24px")
    .attr("fill", "#000")
    .text(xTitles[i]);
});

// shared titles
svg.append("text")
  .attr("transform", "translate(37,669) rotate(-90)")
  .attr("text-anchor", "middle")
  .style("font-size", "27px")
  .attr("fill", "#000")
  .text("Log-transformed CAC scores");

svg.append("text")
  .attr("x", 321)
  .attr("y", 1453)
  .attr("text-anchor", "middle")
  .style("font-size", "27px")
  .attr("fill", "#000")
  .text("Standardized OPG levels");
</script>
</body>
</html>
